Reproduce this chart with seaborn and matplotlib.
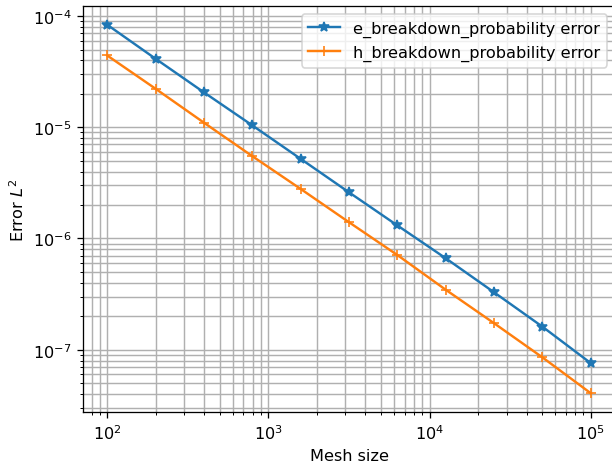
import numpy as np
import matplotlib
matplotlib.use("Agg")
import matplotlib.pyplot as plt
import seaborn as sns

# ---- Data ----
mesh_size = [100, 199.5, 398.1, 794.3, 1584.9, 3162.3, 6309.6, 12589.3, 25118.9, 50118.7, 100000]
e_error = [8.35e-5, 4.13e-5, 2.06e-5, 1.04e-5, 5.2e-6, 2.6e-6, 1.31e-6, 6.64e-7, 3.28e-7, 1.61e-7, 7.57e-8]
h_error = [4.42e-5, 2.22e-5, 1.10e-5, 5.5e-6, 2.79e-6, 1.40e-6, 7.1e-7, 3.46e-7, 1.73e-7, 8.53e-8, 4.06e-8]

c_e = '#1f77b4'
c_h = '#ff7f0e'

DPI = 116
fig = plt.figure(figsize=(612 / DPI, 467 / DPI), dpi=DPI)
# axes run slightly past the right edge, as in the reference
ax = fig.add_axes([83 / 612, 1 - 412.7 / 467, 532 / 612, 405.4 / 467])

sns.lineplot(x=mesh_size, y=e_error, ax=ax, color=c_e, marker='*', markersize=6.5,
             markeredgecolor=c_e, markeredgewidth=1.0, linewidth=1.5,
             label='e_breakdown_probability error')
sns.lineplot(x=mesh_size, y=h_error, ax=ax, color=c_h, marker='+', markersize=6.5,
             markeredgecolor=c_h, markeredgewidth=1.0, linewidth=1.5,
             label='h_breakdown_probability error')

ax.set_xscale('log')
ax.set_yscale('log')
ax.grid(True, which='both', color='#b0b0b0', linewidth=0.9)
ax.set_axisbelow(True)
ax.set_xlabel('Mesh size')
ax.set_ylabel('Error $L^2$')
ax.legend(loc='upper right')

fig.savefig('out.png', dpi=DPI)
